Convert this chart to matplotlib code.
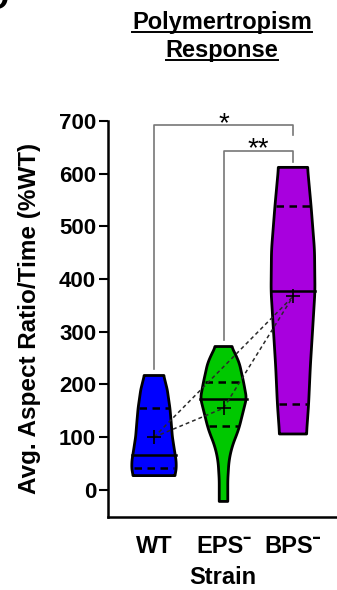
import numpy as np
import matplotlib.pyplot as plt

plt.rcParams['font.family'] = ['Liberation Sans', 'DejaVu Sans']

# data
strains = ['WT', 'EPS', 'BPS']
tick_labels = ['WT', 'EPS\u02c9', 'BPS\u02c9']
colors = ['#0000ff', '#00c800', '#a800de']

medians = [66, 173, 378]
q1 = [42, 121, 163]
q3 = [155, 204, 539]
means = [100, 155, 367]

# violin outlines: value levels and half widths (in category units)
wt_levels = [27, 35, 42, 55, 66, 80, 101, 130, 155, 190, 217]
wt_half = [0.283, 0.296, 0.302, 0.300, 0.288, 0.272, 0.249, 0.232, 0.216, 0.180, 0.132]
eps_levels = [-22, 19, 35, 51, 70, 89, 105, 120, 152, 174, 204, 240, 258, 272]
eps_half = [0.058, 0.058, 0.065, 0.072, 0.095, 0.134, 0.180, 0.216, 0.273, 0.312, 0.273, 0.216, 0.160, 0.108]
bps_levels = [106, 163, 234, 297, 377, 455, 539, 612]
bps_half = [0.183, 0.212, 0.235, 0.263, 0.298, 0.292, 0.245, 0.197]

levels = [wt_levels, eps_levels, bps_levels]
halves = [wt_half, eps_half, bps_half]

# significance brackets: (left group, right group, top, left foot, right foot, label)
brackets = [(0, 2, 692, 230, 673, '*'),
            (1, 2, 644, 285, 623, '**')]

fig = plt.figure(figsize=(3.37, 5.90), dpi=100)
ax = fig.add_axes([108/337, 1-516.7/590, 1-108/337, (516.7-121)/590])

pos = np.arange(len(strains))
grow = 1.06


def outline(lv, hw, n=240, k=15):
    # piecewise outline, lightly smoothed so the sides curve
    yy = np.linspace(lv[0], lv[-1], n)
    ww = np.interp(yy, lv, hw)
    pad = np.concatenate([np.full(k, ww[0]), ww, np.full(k, ww[-1])])
    ww = np.convolve(pad, np.ones(k) / k, mode='same')[k:-k]
    return yy, ww


for i in range(len(strains)):
    lv = np.array(levels[i], dtype=float)
    hw = np.array(halves[i]) * grow
    yy, ww = outline(lv, hw)
    xs = np.concatenate([pos[i] - ww, (pos[i] + ww)[::-1]])
    ys = np.concatenate([yy, yy[::-1]])
    ax.fill(xs, ys, facecolor=colors[i], edgecolor='black', lw=2.0,
            joinstyle='round', zorder=2)
    w = np.interp(medians[i], yy, ww) * 1.03
    ax.plot([pos[i] - w, pos[i] + w], [medians[i]] * 2, color='black', lw=1.8, zorder=3)
    for q in (q1[i], q3[i]):
        w = np.interp(q, yy, ww) * 0.92
        ax.plot([pos[i] - w, pos[i] + w], [q, q], color='black', lw=1.8,
                ls=(0, (3, 2.2)), zorder=3)

# dotted connections between means
conn = [(0, 1), (1, 2), (0, 2)]
for a, b in conn:
    ax.plot([pos[a], pos[b]], [means[a], means[b]], color='#2a2a2a', lw=1.1,
            ls=(0, (2.5, 2)), zorder=4)
ax.plot(pos, means, ls='none', marker='+', ms=10, mew=1.2, color='black', zorder=5)

for a, b, top, fa, fb, lab in brackets:
    ax.plot([pos[a], pos[a], pos[b], pos[b]], [fa, top, top, fb], color='#777777',
            lw=1.2, clip_on=False, zorder=1)
    ax.text((pos[a] + pos[b]) / 2, top - 22, lab, ha='center', va='bottom',
            fontsize=20, color='black', clip_on=False)

ax.set_xlim(-0.662, 2.633)
ax.set_ylim(-51, 700)
ax.set_yticks(range(0, 701, 100))
ax.set_xticks(pos)
ax.set_xticklabels(tick_labels, fontsize=17, fontweight='bold')
for lab in ax.get_yticklabels():
    lab.set_fontweight('bold')
    lab.set_fontsize(16)
ax.tick_params(axis='y', length=6.5, width=1.5, pad=2)
ax.tick_params(axis='x', length=0, pad=13)
ax.spines['top'].set_visible(False)
ax.spines['right'].set_visible(False)
ax.spines['left'].set_linewidth(1.8)
ax.spines['bottom'].set_linewidth(1.8)
ax.spines['left'].set_bounds(-51, 700)

ax.set_ylabel('Avg. Aspect Ratio/Time (%WT)', fontsize=17.5, fontweight='bold', labelpad=13)
ax.set_xlabel('Strain', fontsize=17, fontweight='bold', labelpad=6)

# title with underline
t1 = fig.text(222/337, 1-29/590, 'Polymertropism', ha='center', va='baseline',
              fontsize=17, fontweight='bold')
t2 = fig.text(222/337, 1-57/590, 'Response', ha='center', va='baseline',
              fontsize=17, fontweight='bold')
fig.canvas.draw()
r = fig.canvas.get_renderer()
for t, yu in ((t1, 32), (t2, 60)):
    bb = t.get_window_extent(r)
    fig.add_artist(plt.Line2D([bb.x0/337, bb.x1/337], [1-yu/590]*2,
                              transform=fig.transFigure, color='black', lw=1.4))

# panel letter cut off in the corner
fig.text(9/337, 1-9/590, 'D', ha='right', va='baseline', fontsize=24, fontweight='bold')

fig.savefig('out.png', dpi=100)
